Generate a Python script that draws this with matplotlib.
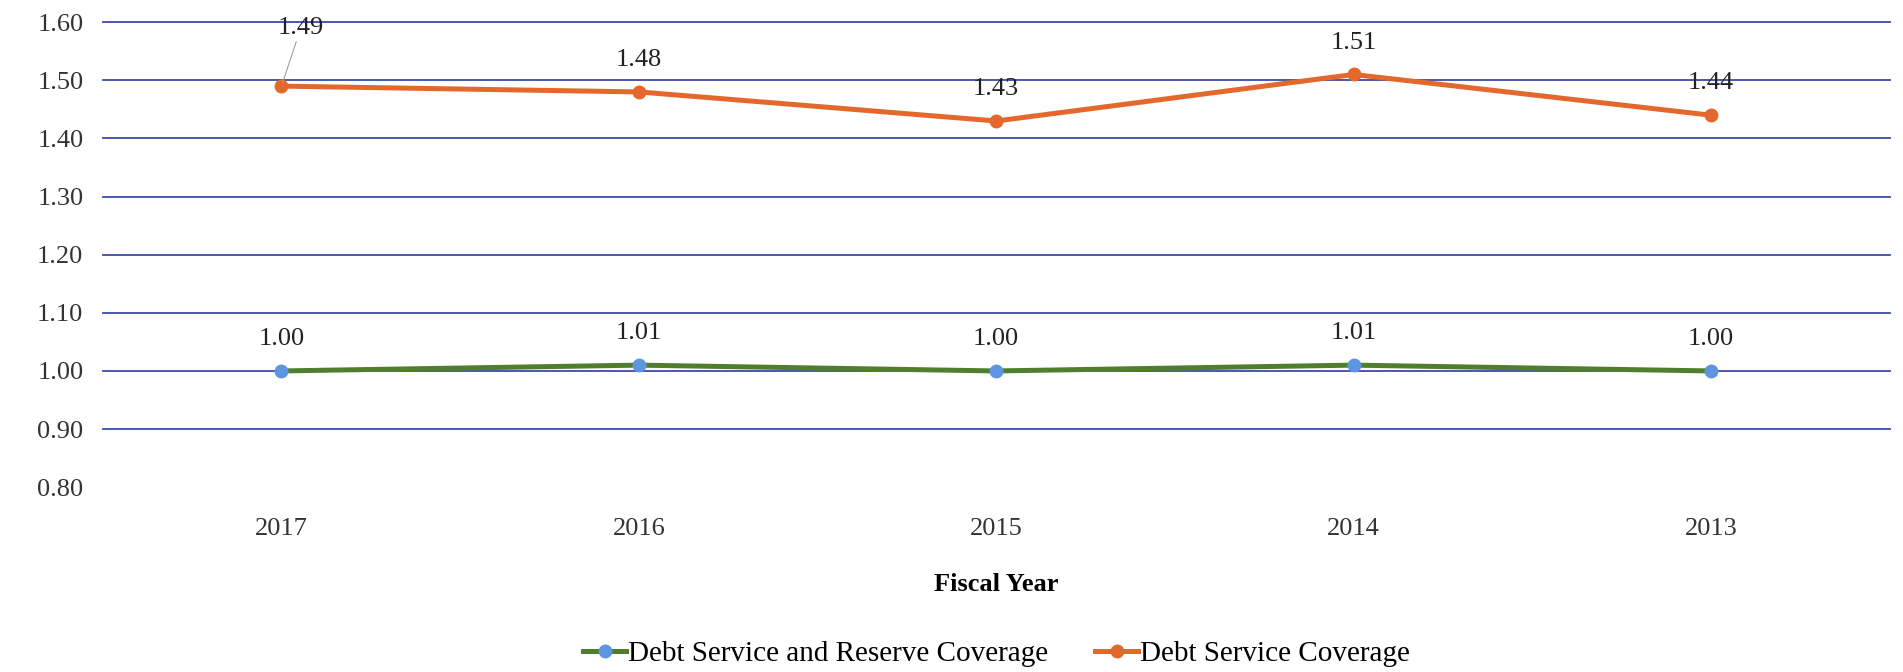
import matplotlib
matplotlib.use("Agg")
import matplotlib.pyplot as plt

years = ["2017", "2016", "2015", "2014", "2013"]
reserve_cov = [1.00, 1.01, 1.00, 1.01, 1.00]
service_cov = [1.49, 1.48, 1.43, 1.51, 1.44]
yticks = [0.80, 0.90, 1.00, 1.10, 1.20, 1.30, 1.40, 1.50, 1.60]

plt.rcParams['font.family'] = ['Liberation Serif', 'DejaVu Serif']

fig = plt.figure(figsize=(19.03, 6.72), dpi=100)
ax = fig.add_axes([0.054, 0.275, 0.939, 0.692])

x = list(range(len(years)))

for y in yticks[1:]:
    ax.axhline(y, color="#3b4aa6", lw=1.3, zorder=1, clip_on=False)

ax.plot(x, reserve_cov, color="#4f7f2c", lw=3.6, marker="o", ms=9,
        mfc="#5e95e0", mec="#5e95e0", zorder=3,
        label="Debt Service and Reserve Coverage")
ax.plot(x, service_cov, color="#e4682c", lw=3.6, marker="o", ms=9,
        mfc="#e4682c", mec="#e4682c", zorder=3,
        label="Debt Service Coverage")

for i, v in enumerate(reserve_cov):
    ax.annotate(f"{v:.2f}", (i, v), xytext=(0, 15), textcoords="offset points",
                ha="center", va="bottom", fontsize=19, color="#222222")
for i, v in enumerate(service_cov):
    if i == 0:
        ax.annotate(f"{v:.2f}", (i, v), xytext=(14, 34), textcoords="offset points",
                    ha="center", va="bottom", fontsize=19, color="#222222",
                    arrowprops=dict(arrowstyle="-", color="#a0a0a0", lw=0.8,
                                    shrinkA=0, shrinkB=3))
    else:
        ax.annotate(f"{v:.2f}", (i, v), xytext=(0, 15), textcoords="offset points",
                    ha="center", va="bottom", fontsize=19, color="#222222")

ax.set_xlim(-0.5, len(years) - 0.5)
ax.set_ylim(0.80, 1.60)
ax.set_yticks(yticks)
ax.set_yticklabels([f"{t:.2f}" for t in yticks], fontsize=19, color="#333333")
ax.set_xticks(x)
ax.set_xticklabels(years, fontsize=19, color="#333333")
ax.tick_params(length=0, pad=14)
ax.tick_params(axis="x", pad=22)
for s in ax.spines.values():
    s.set_visible(False)

ax.set_xlabel("Fiscal Year", fontsize=19, fontweight="bold", labelpad=24)

ax.legend(loc="upper center", bbox_to_anchor=(0.5, -0.305), ncol=2,
          frameon=False, fontsize=21, handlelength=1.5, handletextpad=0.05,
          columnspacing=1.6, borderaxespad=0)

fig.savefig("out.png", dpi=100, facecolor="white")
